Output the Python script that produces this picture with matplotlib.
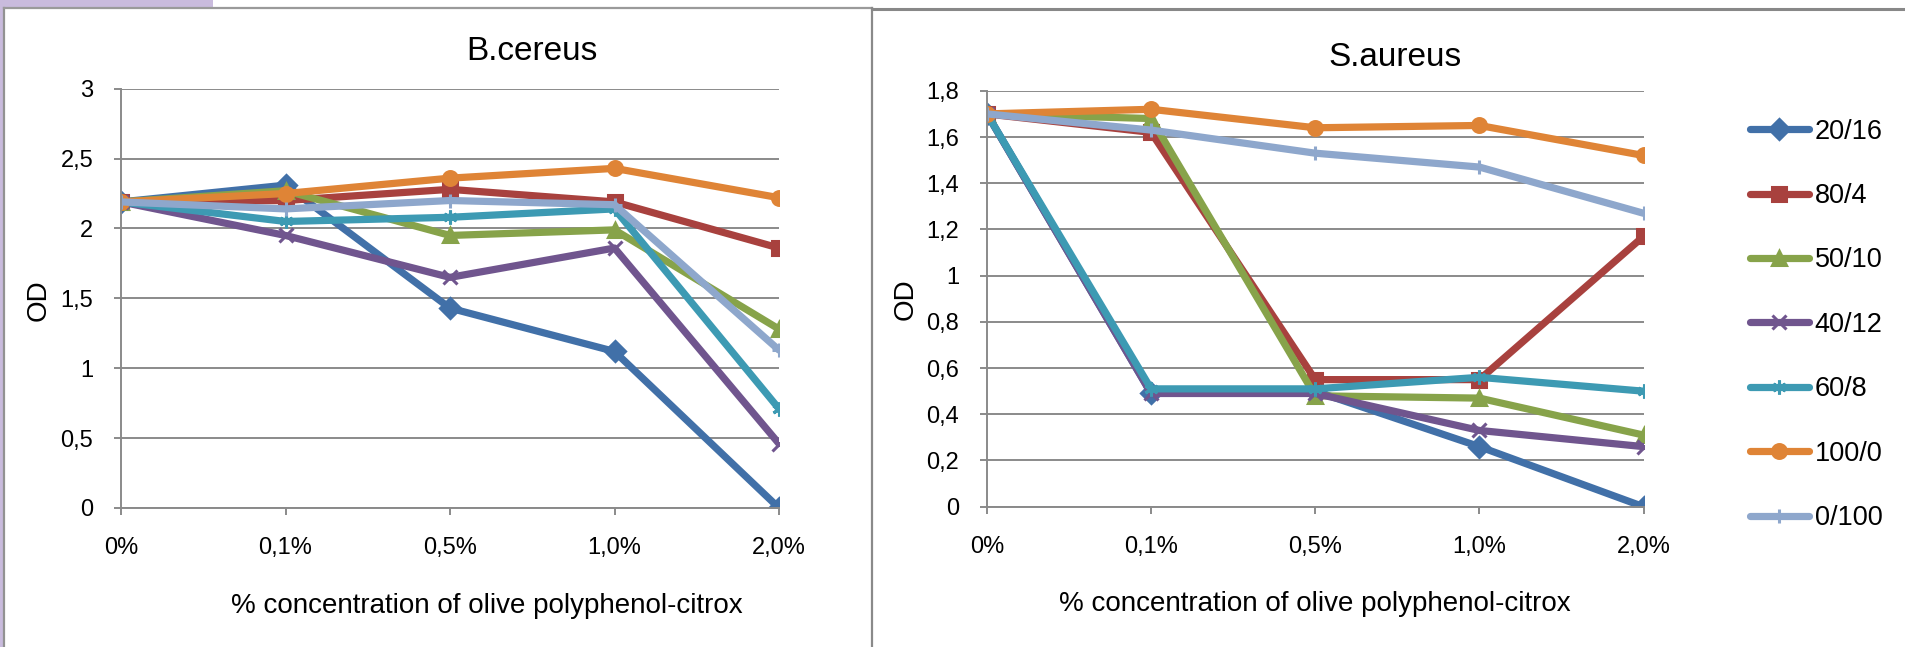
import matplotlib
matplotlib.use("Agg")
import matplotlib.pyplot as plt
from matplotlib.lines import Line2D
from matplotlib.patches import Rectangle

plt.rcParams['font.family'] = ['Liberation Sans', 'DejaVu Sans']

# categorias do eixo x
cats = ['0%', '0,1%', '0,5%', '1,0%', '2,0%']
series = ['20/16', '80/4', '50/10', '40/12', '60/8', '100/0', '0/100']

# B.cereus
bc_2016 = [2.19, 2.31, 1.43, 1.12, 0.0]
bc_804 = [2.19, 2.20, 2.28, 2.19, 1.86]
bc_5010 = [2.19, 2.27, 1.95, 1.99, 1.28]
bc_4012 = [2.19, 1.95, 1.65, 1.86, 0.46]
bc_608 = [2.19, 2.05, 2.08, 2.14, 0.71]
bc_1000 = [2.19, 2.25, 2.36, 2.43, 2.22]
bc_0100 = [2.19, 2.14, 2.20, 2.17, 1.13]

# S.aureus
sa_2016 = [1.70, 0.49, 0.50, 0.26, 0.0]
sa_804 = [1.70, 1.62, 0.55, 0.55, 1.17]
sa_5010 = [1.70, 1.68, 0.48, 0.47, 0.31]
sa_4012 = [1.70, 0.49, 0.49, 0.33, 0.26]
sa_608 = [1.70, 0.51, 0.51, 0.56, 0.50]
sa_1000 = [1.70, 1.72, 1.64, 1.65, 1.52]
sa_0100 = [1.70, 1.63, 1.53, 1.47, 1.27]

bc_ticks = [0, 0.5, 1, 1.5, 2, 2.5, 3]
bc_ticklabels = ['0', '0,5', '1', '1,5', '2', '2,5', '3']
sa_ticks = [0, 0.2, 0.4, 0.6, 0.8, 1.0, 1.2, 1.4, 1.6, 1.8]
sa_ticklabels = ['0', '0,2', '0,4', '0,6', '0,8', '1', '1,2', '1,4', '1,6', '1,8']

colors = ['#4170A8', '#A8413E', '#87A34A', '#70558E', '#3D9AB3', '#DF8436', '#8EA7CC']
markers = ['D', 's', '^', 'x', (6, 2, 0), 'o', '+']

W, H = 1905, 647
fig = plt.figure(figsize=(W / 100, H / 100), dpi=100)


def fx(x):
    return x / W


def fy(y):
    return 1 - y / H


def draw_panel(ax, data, ticks, ticklabels, top):
    xs = list(range(len(cats)))
    for vals, col, mk, name in zip(data, colors, markers, series):
        ax.plot(xs, vals, color=col, lw=5.2, marker=mk, ms=10, mew=2.2,
                solid_capstyle='round', solid_joinstyle='round', label=name)
    ax.set_xlim(0, 4)
    ax.set_ylim(0, top)
    ax.set_yticks(ticks)
    ax.set_yticklabels(ticklabels, fontsize=17)
    ax.set_xticks(xs)
    ax.set_xticklabels(cats, fontsize=17)
    ax.grid(axis='y', color='#8a8a8a', lw=1.4)
    ax.set_axisbelow(True)
    for s in ['top', 'right']:
        ax.spines[s].set_visible(False)
    for s in ['left', 'bottom']:
        ax.spines[s].set_color('#8a8a8a')
        ax.spines[s].set_linewidth(1.4)
    ax.tick_params(axis='y', length=5, width=1.4, color='#8a8a8a', pad=15)
    ax.tick_params(axis='x', length=5, width=1.4, color='#8a8a8a', pad=16)


ax1 = fig.add_axes([fx(121), fy(508), fx(779 - 121), (508 - 88.7) / H])
draw_panel(ax1, [bc_2016, bc_804, bc_5010, bc_4012, bc_608, bc_1000, bc_0100],
           bc_ticks, bc_ticklabels, 3)

ax2 = fig.add_axes([fx(987), fy(506.7), fx(1643.5 - 987), (506.7 - 90.8) / H])
draw_panel(ax2, [sa_2016, sa_804, sa_5010, sa_4012, sa_608, sa_1000, sa_0100],
           sa_ticks, sa_ticklabels, 1.8)

# titulos e rotulos
fig.text(fx(532), fy(52), 'B.cereus', fontsize=24, ha='center', va='center')
fig.text(fx(1395), fy(58), 'S.aureus', fontsize=24, ha='center', va='center')
fig.text(fx(487), fy(606), '% concentration of olive polyphenol-citrox', fontsize=20,
         ha='center', va='center')
fig.text(fx(1315), fy(604), '% concentration of olive polyphenol-citrox', fontsize=20,
         ha='center', va='center')
fig.text(fx(39), fy(300), 'OD', fontsize=20, rotation=90, ha='center', va='center')
fig.text(fx(906), fy(299), 'OD', fontsize=20, rotation=90, ha='center', va='center')

# legenda
handles, labels = ax2.get_legend_handles_labels()
fig.legend(handles, labels, loc='upper left', bbox_to_anchor=(fx(1736), fy(105)),
           frameon=False, fontsize=19.5, numpoints=1, handlelength=2.2,
           handletextpad=0.2, labelspacing=1.42, borderpad=0)

# molduras dos graficos
fig.add_artist(Rectangle((0, fy(7)), fx(213), 7 / H, transform=fig.transFigure,
                         color='#c9bbdd', lw=0))
fig.add_artist(Rectangle((0, 0), fx(2.5), 1, transform=fig.transFigure,
                         color='#c9bbdd', lw=0))
fig.add_artist(Line2D([fx(3.5), fx(3.5)], [0, fy(8)], transform=fig.transFigure,
                      color='#929292', lw=1.6))
fig.add_artist(Line2D([fx(3.5), fx(872)], [fy(8), fy(8)], transform=fig.transFigure,
                      color='#9a9a9a', lw=1.6))
fig.add_artist(Line2D([fx(872), fx(872)], [0, fy(8)], transform=fig.transFigure,
                      color='#8a8a8a', lw=1.6))
fig.add_artist(Line2D([fx(872), 1], [fy(8.5), fy(8.5)], transform=fig.transFigure,
                      color='#888888', lw=2.2))

fig.savefig('out.png', dpi=100)
